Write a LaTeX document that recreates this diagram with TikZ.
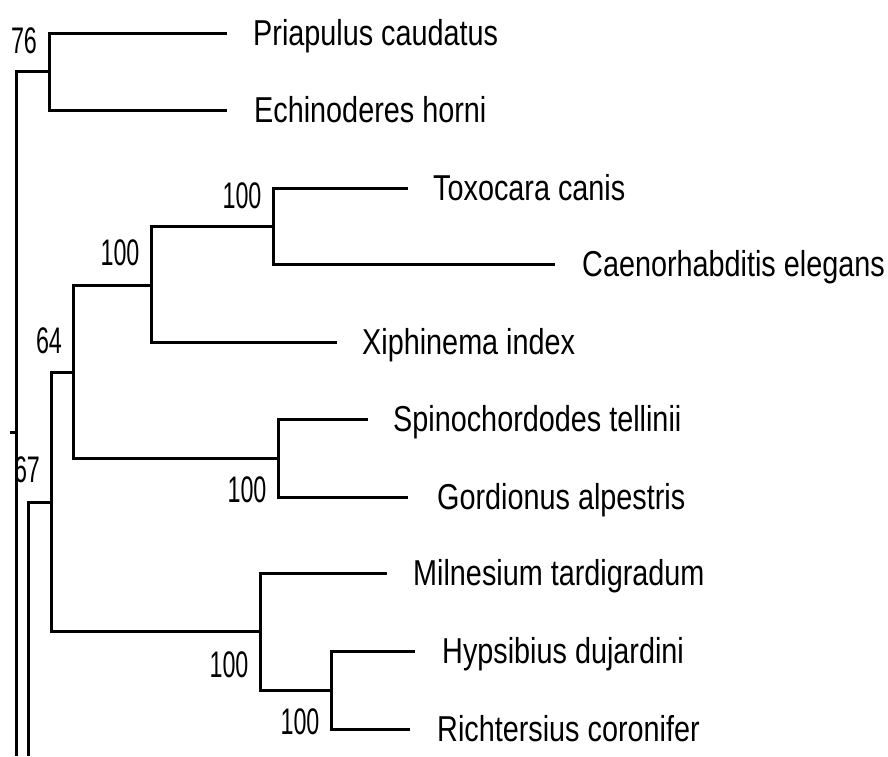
\documentclass[tikz,border=0pt]{standalone}
\usepackage{fontspec}
\setmainfont{Liberation Sans}
\newfontfamily\nombrefont[FakeStretch=0.8]{Liberation Sans}
\newfontfamily\valorfont[FakeStretch=0.63]{Liberation Sans}
\begin{document}
\begin{tikzpicture}[x=1pt,y=-1pt,
	rama/.style={line width=3pt},
	especie/.style={anchor=base west,inner sep=0pt,font=\nombrefont\fontsize{36}{42}\selectfont},
	valor/.style={inner sep=0pt,font=\valorfont\fontsize{37}{44}\selectfont}]
	\useasboundingbox (0,0) rectangle (888,756);
	
	% Nodos internos
	\coordinate (tallo) at (10,432);
	\coordinate (raiz) at (16,432);
	\coordinate (bajo1) at (16,756);
	\coordinate (bajo2) at (28,756);
	\coordinate (n76) at (49,71);
	\coordinate (n51) at (51,502);
	\coordinate (n64) at (73,372);
	\coordinate (n100a) at (151,285);
	\coordinate (n100b) at (273,226);
	\coordinate (n100c) at (278,458);
	\coordinate (n100d) at (260,631);
	\coordinate (n100e) at (331,690);
	
	% Extremos de las hojas
	\coordinate (priap) at (227,33);
	\coordinate (echin) at (227,110);
	\coordinate (toxo) at (408,188);
	\coordinate (caeno) at (555,264);
	\coordinate (xiph) at (337,342);
	\coordinate (spino) at (368,419);
	\coordinate (gord) at (408,497);
	\coordinate (miln) at (387,573);
	\coordinate (hyps) at (415,651);
	\coordinate (richt) at (410,729);
	
	% Ramas
	\draw[rama] (tallo) -- (raiz);
	\draw[rama] (bajo1) |- (n76);
	\draw[rama] (bajo2) |- (n51);
	\draw[rama] (n76) |- (priap);
	\draw[rama] (n76) |- (echin);
	\draw[rama] (n51) |- (n64);
	\draw[rama] (n51) |- (n100d);
	\draw[rama] (n64) |- (n100a);
	\draw[rama] (n64) |- (n100c);
	\draw[rama] (n100a) |- (n100b);
	\draw[rama] (n100a) |- (xiph);
	\draw[rama] (n100b) |- (toxo);
	\draw[rama] (n100b) |- (caeno);
	\draw[rama] (n100c) |- (spino);
	\draw[rama] (n100c) |- (gord);
	\draw[rama] (n100d) |- (miln);
	\draw[rama] (n100d) |- (n100e);
	\draw[rama] (n100e) |- (hyps);
	\draw[rama] (n100e) |- (richt);
	
	% Nombres de las especies
	\node[especie] (tPriap) at (253,45) {Priapulus caudatus};
	\node[especie] (tEchin) at (254,122) {Echinoderes horni};
	\node[especie] (tToxo) at (433,200) {Toxocara canis};
	\node[especie] (tCaeno) at (582,276) {Caenorhabditis elegans};
	\node[especie] (tXiph) at (362,354) {Xiphinema index};
	\node[especie] (tSpino) at (393,431) {Spinochordodes tellinii};
	\node[especie] (tGord) at (437,509) {Gordionus alpestris};
	\node[especie] (tMiln) at (413,585) {Milnesium tardigradum};
	\node[especie] (tHyps) at (442,663) {Hypsibius dujardini};
	\node[especie] (tRicht) at (437,741) {Richtersius coronifer};
	
	% Valores de soporte
	\node[valor] (v76) at (24,41) {76};
	\node[valor] (v67) at (27,470) {67};
	\node[valor] (v64) at (49,341) {64};
	\node[valor] (v100a) at (120,253) {100};
	\node[valor] (v100b) at (242,196) {100};
	\node[valor] (v100c) at (247,490) {100};
	\node[valor] (v100d) at (229,665) {100};
	\node[valor] (v100e) at (300,722) {100};
\end{tikzpicture}
\end{document}
